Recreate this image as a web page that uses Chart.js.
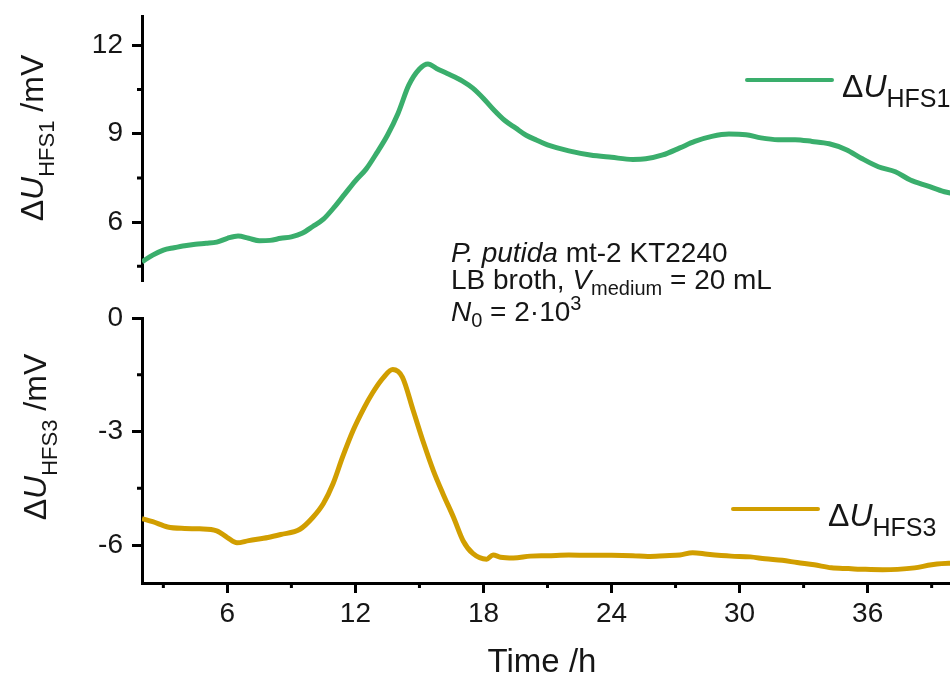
<!DOCTYPE html>
<html>
<head>
<meta charset="utf-8">
<script src="https://cdn.jsdelivr.net/npm/chart.js@4.4.0/dist/chart.umd.min.js"></script>
<style>
  html, body { margin: 0; padding: 0; width: 950px; height: 683px; overflow: hidden; background: #fff; }
  canvas { position: absolute; left: 0; top: 0; }
</style>
</head>
<body>
<canvas id="panelTop" width="956" height="683"></canvas>
<canvas id="panelBottom" width="956" height="683"></canvas>
<script>
// Sensor HFS1 signal (mV) against time (h)
const timeHfs1 = [2, 2.5, 3, 3.5, 4, 4.5, 5, 5.5, 6, 6.5, 7, 7.5, 8, 8.5, 9, 9.5, 10, 10.5, 11, 11.5,
  12, 12.5, 13, 13.5, 14, 14.5, 15, 15.4, 15.8, 16.3, 17, 17.5, 18, 18.5, 19, 19.5, 20, 20.5, 21, 22,
  23, 24, 25, 25.6, 26.4, 27.2, 27.9, 28.7, 29.5, 30.3, 31, 31.8, 32.6, 33.4, 34.2, 35, 35.7, 36.5,
  37.3, 38, 38.8, 39.6, 40];
const valuesHfs1 = [4.65, 4.88, 5.05, 5.13, 5.2, 5.25, 5.28, 5.32, 5.45, 5.53, 5.45, 5.37, 5.38, 5.45, 5.5, 5.62,
  5.85, 6.1, 6.5, 6.95, 7.4, 7.8, 8.35, 8.95, 9.7, 10.65, 11.2, 11.37, 11.22, 11.05, 10.8, 10.55, 10.2, 9.8,
  9.45, 9.2, 8.95, 8.78, 8.62, 8.42, 8.28, 8.2, 8.13, 8.15, 8.28, 8.52, 8.74, 8.91, 8.99, 8.97, 8.86, 8.8,
  8.8, 8.74, 8.66, 8.46, 8.17, 7.88, 7.71, 7.43, 7.23, 7.03, 6.97];

// Sensor HFS3 signal (mV) against time (h)
const timeHfs3 = [2, 2.5, 3.2, 4, 4.7, 5.5, 6, 6.45, 7, 7.9, 8.5, 9.4, 10, 10.5, 10.95, 11.4, 11.9, 12.4,
  12.8, 13.3, 13.75, 14.2, 14.7, 15.2, 15.65, 16.1, 16.6, 17.05, 17.5, 18.15, 18.45, 18.8, 19.4, 20.2, 21,
  22, 23, 24, 25, 25.7, 26.5, 27.2, 27.8, 28.5, 29.6, 30.5, 31.2, 32, 32.7, 33.5, 34.3, 35.1, 35.9, 36.7,
  37.4, 38.2, 39, 39.8, 40];
const valuesHfs3 = [-5.3, -5.38, -5.52, -5.56, -5.57, -5.62, -5.8, -5.94, -5.88, -5.8, -5.72, -5.58, -5.27,
  -4.9, -4.38, -3.67, -2.96, -2.38, -1.98, -1.58, -1.36, -1.56, -2.43, -3.31, -4.03, -4.64, -5.27, -5.89,
  -6.22, -6.37, -6.26, -6.32, -6.34, -6.29, -6.28, -6.26, -6.27, -6.27, -6.28, -6.3, -6.28, -6.26, -6.2,
  -6.24, -6.29, -6.31, -6.36, -6.4, -6.46, -6.52, -6.6, -6.62, -6.64, -6.65, -6.64, -6.6, -6.52, -6.48, -6.48];

// Axis ticks
const timeTicks = [6, 12, 18, 24, 30, 36];
const timeMinorTicks = [3, 9, 15, 21, 27, 33, 39];
const hfs1Ticks = [6, 9, 12];
const hfs1MinorTicks = [4.5, 7.5, 10.5];
const hfs3Ticks = [-6, -3, 0];
const hfs3MinorTicks = [-4.5, -1.5];

const FONT = '"Liberation Sans", Arial, Helvetica, sans-serif';
const TEXT = '#161616';
const GREEN = '#3aae6c';
const GOLD = '#d19e00';

function font(size, style) { return (style ? style + ' ' : '') + size + 'px ' + FONT; }

function points(xs, ys) { return xs.map((x, i) => ({ x: x, y: ys[i] })); }

function fixedTicks(values) {
  return scale => { scale.ticks = values.map(v => ({ value: v })); };
}

// Draws runs of text with individual fonts and baseline shifts
function drawRich(ctx, x, y, parts, align) {
  let total = 0;
  parts.forEach(p => { ctx.font = p.font; p.w = ctx.measureText(p.text).width; total += p.w; });
  let cx = align === 'center' ? x - total / 2 : x;
  ctx.textAlign = 'left';
  ctx.textBaseline = 'alphabetic';
  parts.forEach(p => { ctx.font = p.font; ctx.fillText(p.text, cx, y + (p.dy || 0)); cx += p.w; });
}

function yTitle(ctx, baselineX, centerY, sub) {
  ctx.save();
  ctx.fillStyle = TEXT;
  ctx.translate(baselineX, centerY);
  ctx.rotate(-Math.PI / 2);
  drawRich(ctx, 0, 0, [
    { text: '\u0394', font: font(32) },
    { text: 'U', font: font(32, 'italic') },
    { text: sub, font: font(22), dy: 11 },
    { text: ' /mV', font: font(32) }
  ], 'center');
  ctx.restore();
}

function legendEntry(ctx, x, lineY, color, sub) {
  ctx.save();
  ctx.strokeStyle = color;
  ctx.lineWidth = 4;
  ctx.lineCap = 'round';
  ctx.beginPath();
  ctx.moveTo(x, lineY);
  ctx.lineTo(x + 85, lineY);
  ctx.stroke();
  ctx.fillStyle = TEXT;
  drawRich(ctx, x + 95, lineY + 17, [
    { text: '\u0394', font: font(32) },
    { text: 'U', font: font(32, 'italic') },
    { text: sub, font: font(25), dy: 10 }
  ], 'left');
  ctx.restore();
}

// Short unlabelled ticks between the labelled ones
const minorTicksPlugin = {
  id: 'minorTicks',
  afterDraw(chart, args, opts) {
    const ctx = chart.ctx;
    const area = chart.chartArea;
    ctx.save();
    ctx.strokeStyle = '#000';
    ctx.lineWidth = 3;
    ctx.beginPath();
    (opts.y || []).forEach(v => {
      const py = chart.scales.y.getPixelForValue(v);
      ctx.moveTo(area.left - 5, py);
      ctx.lineTo(area.left, py);
    });
    (opts.x || []).forEach(v => {
      const px = chart.scales.x.getPixelForValue(v);
      ctx.moveTo(px, area.bottom);
      ctx.lineTo(px, area.bottom + 5);
    });
    ctx.stroke();
    ctx.restore();
  }
};

// Titles, legend entries and the sample note
const labelsPlugin = {
  id: 'panelLabels',
  afterDraw(chart, args, opts) {
    const ctx = chart.ctx;
    const ds = chart.data.datasets[0];
    yTitle(ctx, opts.titleX, opts.titleY, opts.sub);
    legendEntry(ctx, opts.legendX, opts.legendY, ds.borderColor, opts.sub);
    if (opts.note) {
      ctx.save();
      ctx.fillStyle = TEXT;
      // time axis title
      ctx.font = font(33);
      ctx.textAlign = 'center';
      ctx.textBaseline = 'alphabetic';
      ctx.fillText('Time /h', 542, 672);
      const x0 = 451;
      drawRich(ctx, x0, 262, [
        { text: 'P. putida', font: font(28, 'italic') },
        { text: ' mt-2 KT2240', font: font(28) }
      ], 'left');
      drawRich(ctx, x0, 289, [
        { text: 'LB broth, ', font: font(28) },
        { text: 'V', font: font(28, 'italic') },
        { text: 'medium', font: font(20), dy: 6 },
        { text: ' = 20 mL', font: font(28) }
      ], 'left');
      drawRich(ctx, x0, 321, [
        { text: 'N', font: font(28, 'italic') },
        { text: '0', font: font(20), dy: 6 },
        { text: ' = 2\u00b710', font: font(28) },
        { text: '3', font: font(20), dy: -11 }
      ], 'left');
      ctx.restore();
    }
  }
};

function yAxis(min, max, ticks) {
  return {
    type: 'linear',
    min: min,
    max: max,
    afterBuildTicks: fixedTicks(ticks),
    afterFit(s) { s.width = 142; s.paddingTop = 0; s.paddingBottom = 0; },
    border: { display: true, color: '#000', width: 3 },
    grid: { display: true, drawOnChartArea: false, drawTicks: true, tickLength: 10, tickWidth: 3, tickColor: '#000' },
    ticks: { color: TEXT, font: { family: FONT, size: 28 }, padding: 9 }
  };
}

function lineDataset(label, xs, ys, color) {
  return {
    label: label,
    data: points(xs, ys),
    borderColor: color,
    backgroundColor: color,
    borderWidth: 5,
    pointRadius: 0,
    cubicInterpolationMode: 'monotone',
    fill: false
  };
}

Chart.defaults.animation = false;

new Chart(document.getElementById('panelTop'), {
  type: 'line',
  data: { datasets: [lineDataset('\u0394U HFS1', timeHfs1, valuesHfs1, GREEN)] },
  options: {
    responsive: false,
    animation: false,
    layout: { padding: { top: 16, bottom: 683 - 281, left: 0, right: 3 } },
    scales: {
      x: { type: 'linear', min: 2, max: 40, display: false },
      y: yAxis(4, 13, hfs1Ticks)
    },
    plugins: {
      legend: { display: false },
      tooltip: { enabled: false },
      minorTicks: { y: hfs1MinorTicks },
      panelLabels: { titleX: 43, titleY: 138, sub: 'HFS1', legendX: 747, legendY: 80 }
    }
  },
  plugins: [minorTicksPlugin, labelsPlugin]
});

new Chart(document.getElementById('panelBottom'), {
  type: 'line',
  data: { datasets: [lineDataset('\u0394U HFS3', timeHfs3, valuesHfs3, GOLD)] },
  options: {
    responsive: false,
    animation: false,
    layout: { padding: { top: 318, bottom: 0, left: 0, right: 3 } },
    scales: {
      x: {
        type: 'linear',
        min: 2,
        max: 40,
        afterBuildTicks: fixedTicks(timeTicks),
        afterFit(s) { s.height = 683 - 583; s.paddingLeft = 0; s.paddingRight = 0; },
        border: { display: true, color: '#000', width: 3 },
        grid: { display: true, drawOnChartArea: false, drawTicks: true, tickLength: 10, tickWidth: 3, tickColor: '#000' },
        ticks: { color: TEXT, font: { family: FONT, size: 28 }, padding: 4, maxRotation: 0, autoSkip: false }
      },
      y: yAxis(-7, 0, hfs3Ticks)
    },
    plugins: {
      legend: { display: false },
      tooltip: { enabled: false },
      minorTicks: { y: hfs3MinorTicks, x: timeMinorTicks },
      panelLabels: { titleX: 46, titleY: 437, sub: 'HFS3', legendX: 733, legendY: 509, note: true }
    }
  },
  plugins: [minorTicksPlugin, labelsPlugin]
});
</script>
</body>
</html>
